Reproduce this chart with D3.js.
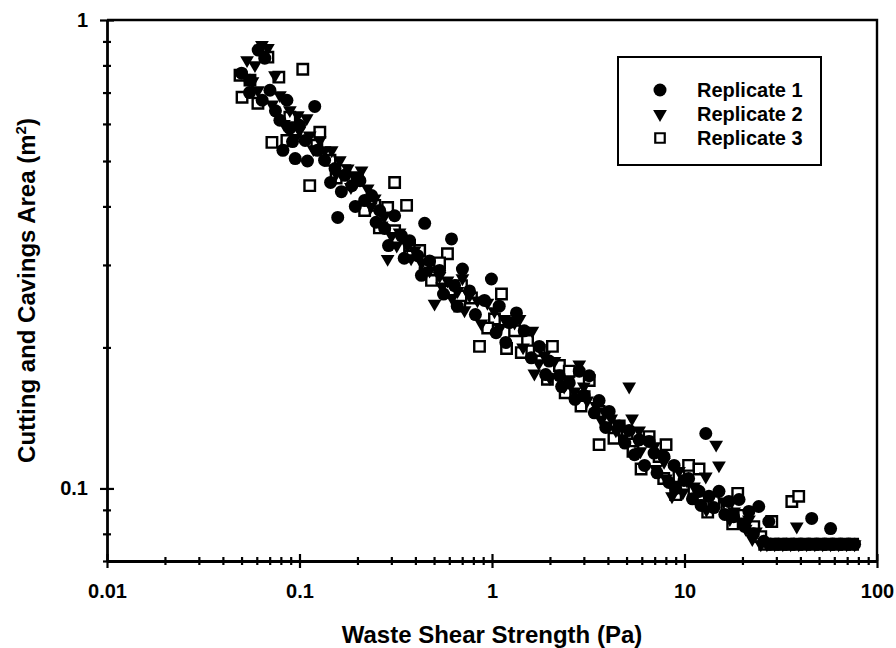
<!DOCTYPE html>
<html><head><meta charset="utf-8">
<script src="https://cdn.jsdelivr.net/npm/d3@7"></script>
<style>body{margin:0;background:#fff} svg{display:block} text{font-family:"Liberation Sans",Arial,sans-serif;fill:#000}</style>
</head><body><svg id="c" width="896" height="648"></svg>
<script>
// ---- data (x = waste shear strength Pa, y = area m2) ----
const rep1 = [[0.050,0.770],[0.0553,0.744],[0.061,0.863],[0.066,0.829],[0.0702,0.708],[0.064,0.674],[0.086,0.674],[0.120,0.654],[0.0791,0.611],[0.089,0.587],[0.082,0.527],[0.095,0.506],[0.107,0.553],[0.100,0.596],[0.124,0.527],[0.135,0.502],[0.153,0.482],[0.158,0.379],[0.172,0.466],[0.187,0.443],[0.206,0.454],[0.218,0.412],[0.237,0.422],[0.261,0.392],[0.277,0.359],[0.312,0.382],[0.339,0.346],[0.373,0.338],[0.447,0.368],[0.411,0.314],[0.474,0.306],[0.616,0.341],[0.534,0.292],[0.702,0.294],[0.639,0.271],[0.764,0.264],[0.993,0.280],[0.914,0.252],[1.09,0.245],[1.34,0.237],[1.23,0.226],[1.47,0.217],[1.76,0.201],[1.98,0.187],[2.24,0.174],[2.52,0.168],[2.84,0.178],[3.20,0.174],[3.01,0.158],[3.60,0.154],[4.06,0.146],[4.58,0.136],[5.16,0.133],[5.81,0.127],[6.55,0.126],[6.95,0.119],[7.83,0.117],[8.83,0.112],[9.94,0.104],[10.5,0.105],[11.9,0.0986],[12.9,0.131],[13.4,0.0962],[15.1,0.0986],[17.0,0.0938],[19.2,0.0947],[21.6,0.0893],[24.3,0.0915],[27.4,0.085],[45.8,0.0863],[57.4,0.0821],
  [0.055,0.70],[0.075,0.64],[0.092,0.55],[0.11,0.50],[0.145,0.45],[0.165,0.43],[0.195,0.40],[0.25,0.37],[0.29,0.33],[0.35,0.31],[0.43,0.285],[0.56,0.26],[0.66,0.245],[0.82,0.235],[1.05,0.215],[1.18,0.205],[1.6,0.19],[1.9,0.175],[2.3,0.165],[2.7,0.155],[3.4,0.145],[3.9,0.135],[4.9,0.125],[5.5,0.118],[6.2,0.112],[7.2,0.108],[8.3,0.103],[9.0,0.100],[11.0,0.095],[12.2,0.092],[14.2,0.091],[16.2,0.088],[18.0,0.087],[20.5,0.083],[22.8,0.080],
  [25.8,0.0771],[28.1,0.076],[30.9,0.076],[34.0,0.076],[37.0,0.076],[40.2,0.076],[44.2,0.076],[48.6,0.076],[53.5,0.076],[58.8,0.076],[64.7,0.076],[71.2,0.076],[76.5,0.076]];
const rep2 = [[0.0534,0.821],[0.0587,0.801],[0.0638,0.884],[0.0685,0.871],[0.0608,0.708],[0.0746,0.762],[0.0791,0.691],[0.0891,0.642],[0.098,0.626],[0.100,0.581],[0.109,0.617],[0.113,0.567],[0.1275,0.553],[0.135,0.527],[0.147,0.527],[0.162,0.502],[0.178,0.482],[0.194,0.466],[0.210,0.477],[0.226,0.437],[0.246,0.416],[0.267,0.364],[0.287,0.309],[0.301,0.346],[0.331,0.352],[0.364,0.330],[0.396,0.322],[0.431,0.303],[0.474,0.292],[0.503,0.248],[0.534,0.284],[0.587,0.278],[0.702,0.281],[0.662,0.264],[0.764,0.258],[0.840,0.252],[0.947,0.249],[1.03,0.239],[1.16,0.230],[1.31,0.226],[1.39,0.230],[1.62,0.217],[1.66,0.176],[1.87,0.192],[2.11,0.187],[2.84,0.184],[2.37,0.165],[2.68,0.161],[3.12,0.154],[3.48,0.150],[3.83,0.146],[4.16,0.141],[5.16,0.165],[5.34,0.141],[5.81,0.133],[6.39,0.127],[6.95,0.123],[7.83,0.114],[8.61,0.0962],[9.36,0.109],[10.3,0.104],[11.2,0.101],[12.9,0.106],[14.6,0.124],[15.1,0.112],[13.7,0.0962],[16.0,0.0938],[18.1,0.0893],[19.6,0.085],[21.6,0.0858],[23.5,0.0809],[38.3,0.0829],
  [0.057,0.74],[0.072,0.66],[0.083,0.60],[0.095,0.56],[0.118,0.53],[0.155,0.47],[0.185,0.44],[0.235,0.40],[0.275,0.38],[0.32,0.33],[0.38,0.31],[0.45,0.29],[0.55,0.27],[0.62,0.255],[0.72,0.24],[0.88,0.225],[1.10,0.22],[1.45,0.20],[1.75,0.185],[2.0,0.172],[2.5,0.17],[3.0,0.165],[3.7,0.14],[4.4,0.133],[4.8,0.128],[5.9,0.12],[7.1,0.11],[8.0,0.105],[9.8,0.098],[11.8,0.093],[13.0,0.090],[17.2,0.086],[20.8,0.082],[22.5,0.078],
  [24.9,0.076],[26.8,0.076],[29.4,0.076],[32.4,0.076],[35.6,0.076],[39.2,0.076],[43.1,0.076],[47.5,0.076],[52.2,0.076],[57.4,0.076],[63.2,0.076],[69.5,0.076],[76.5,0.076]];
const rep3 = [[0.0491,0.762],[0.0503,0.684],[0.0553,0.744],[0.0608,0.664],[0.0685,0.833],[0.0781,0.755],[0.104,0.785],[0.0719,0.548],[0.086,0.553],[0.0891,0.620],[0.123,0.540],[0.1275,0.576],[0.113,0.443],[0.144,0.502],[0.172,0.477],[0.200,0.459],[0.218,0.392],[0.246,0.402],[0.312,0.450],[0.287,0.398],[0.360,0.402],[0.312,0.355],[0.373,0.330],[0.421,0.322],[0.587,0.317],[0.534,0.303],[0.485,0.278],[0.602,0.264],[0.694,0.271],[0.782,0.255],[0.861,0.201],[1.12,0.260],[1.03,0.230],[1.19,0.199],[1.31,0.217],[1.53,0.207],[1.76,0.197],[2.06,0.201],[2.24,0.183],[1.94,0.171],[2.52,0.178],[3.01,0.157],[3.20,0.170],[3.60,0.146],[3.60,0.124],[4.06,0.139],[4.58,0.136],[5.03,0.131],[5.95,0.110],[6.55,0.129],[8.02,0.124],[7.38,0.117],[10.5,0.112],[11.9,0.110],[9.36,0.106],[11.2,0.0986],[18.9,0.0976],[14.2,0.0938],[16.6,0.0902],[20.3,0.0876],[22.9,0.0829],[28.4,0.085],[36.1,0.0938],[39.2,0.0962],[24.9,0.0789],
  [0.095,0.58],[0.155,0.46],[0.26,0.36],[0.45,0.30],[0.68,0.245],[0.95,0.22],[1.42,0.195],[2.4,0.16],[2.9,0.15],[4.3,0.128],[5.4,0.12],[7.8,0.105],[9.0,0.097],[13.2,0.089],[17.8,0.084],
  [26.1,0.076],[28.8,0.076],[31.6,0.076],[34.8,0.076],[38.3,0.076],[42.1,0.076],[46.4,0.076],[51.0,0.076],[56.1,0.076],[61.7,0.076],[67.9,0.076],[74.7,0.076]];
const seriesNames = ["Replicate 1","Replicate 2","Replicate 3"];
const xMajorTicks = [0.01,0.1,1,10,100];
const xTickLabels = ["0.01","0.1","1","10","100"];
const yMajorTicks = [0.1,1];
const yTickLabels = ["0.1","1"];
const xTitle = "Waste Shear Strength (Pa)";
const yTitleMain = "Cutting and Cavings Area (m";
const yTitleSup = "2";
const yTitleEnd = ")";

// ---- layout ----
const svg = d3.select("#c");
const L = 107, R = 877, T = 20, B = 561;
const x = d3.scaleLog().domain([0.01,100]).range([L,R]);
const y = d3.scaleLog().domain([0.07,1]).range([B,T]);
const isMajor = (v, arr) => arr.some(m => Math.abs(m - v) / m < 1e-6);
const FONT = "'Liberation Sans',Arial,sans-serif";

// frame (top and right)
svg.append("path").attr("d", `M${x.range()[0]},${y.range()[1]}H${x.range()[1]}V${y.range()[0]}`)
  .attr("fill","none").attr("stroke","#000").attr("stroke-width",2.4);

// x axis
const xa = svg.append("g").attr("transform",`translate(0,${B})`)
  .call(d3.axisBottom(x).tickValues(x.ticks()).tickSize(0).tickSizeOuter(0).tickPadding(0)
    .tickFormat(d => { const i = xMajorTicks.findIndex(m => Math.abs(m-d)/m < 1e-6); return i >= 0 ? xTickLabels[i] : ""; }));
xa.select(".domain").attr("stroke","#000").attr("stroke-width",2.8);
xa.selectAll(".tick line").attr("stroke","#000").attr("stroke-width",2.2)
  .attr("y1", d => isMajor(d,xMajorTicks) ? -7 : -4).attr("y2", d => isMajor(d,xMajorTicks) ? 7 : 4);
xa.selectAll(".tick text").attr("y",23).attr("dy","0.71em").style("font-size","20px").style("font-weight","bold").style("font-family",FONT).attr("fill","#000");

// y axis
const ya = svg.append("g").attr("transform",`translate(${L},0)`)
  .call(d3.axisLeft(y).tickValues(y.ticks()).tickSize(0).tickSizeOuter(0).tickPadding(0)
    .tickFormat(d => { const i = yMajorTicks.findIndex(m => Math.abs(m-d)/m < 1e-6); return i >= 0 ? yTickLabels[i] : ""; }));
ya.select(".domain").attr("stroke","#000").attr("stroke-width",2.8);
ya.selectAll(".tick line").attr("stroke","#000").attr("stroke-width",2.2)
  .attr("x1", d => isMajor(d,yMajorTicks) ? 7 : 4).attr("x2", d => isMajor(d,yMajorTicks) ? -7 : -4);
ya.selectAll(".tick text").attr("x",-19).style("font-size","20px").style("font-weight","bold").style("font-family",FONT).attr("fill","#000");

// titles
svg.append("text").attr("x",(L+R)/2).attr("y",643).attr("text-anchor","middle")
  .style("font-size","24px").style("font-weight","bold").text(xTitle);
const yt = svg.append("text").attr("transform",`translate(35,${(T+B)/2}) rotate(-90)`).attr("text-anchor","middle")
  .style("font-size","24px").style("font-weight","bold");
yt.append("tspan").text(yTitleMain);
yt.append("tspan").attr("dy",-9).style("font-size","15px").text(yTitleSup);
yt.append("tspan").attr("dy",9).text(yTitleEnd);

// markers (open squares underneath, filled symbols on top)
const tri = d3.symbol().type(d3.symbolTriangle).size(82);
const sq = d3.symbol().type(d3.symbolSquare).size(110);
const plot = svg.append("g");
plot.selectAll(".r3").data(rep3).join("path").attr("d",sq).attr("transform",d=>`translate(${x(d[0])},${y(d[1])})`).attr("fill","#fff").attr("stroke","#000").attr("stroke-width",2.4);
plot.selectAll(".r1").data(rep1).join("circle").attr("cx",d=>x(d[0])).attr("cy",d=>y(d[1])).attr("r",6.5).attr("fill","#000");
plot.selectAll(".r2").data(rep2).join("path").attr("d",tri).attr("transform",d=>`translate(${x(d[0])},${y(d[1])}) rotate(180)`).attr("fill","#000");

// legend
const lg = svg.append("g");
lg.append("rect").attr("x",618).attr("y",57).attr("width",203).attr("height",108).attr("fill","#fff").attr("stroke","#000").attr("stroke-width",2);
const rows = [90,114,138];
lg.append("circle").attr("cx",660).attr("cy",rows[0]).attr("r",6.5).attr("fill","#000");
lg.append("path").attr("d",tri).attr("transform",`translate(660,${rows[1]}) rotate(180)`).attr("fill","#000");
lg.append("path").attr("d",d3.symbol().type(d3.symbolSquare).size(90)).attr("transform",`translate(660,${rows[2]})`).attr("fill","#fff").attr("stroke","#000").attr("stroke-width",2.2);
seriesNames.forEach((n,i)=>{
  lg.append("text").attr("x",697).attr("y",rows[i]).attr("dy","0.36em").style("font-size","20px").style("font-weight","bold").text(n);
});
</script>
</body></html>
